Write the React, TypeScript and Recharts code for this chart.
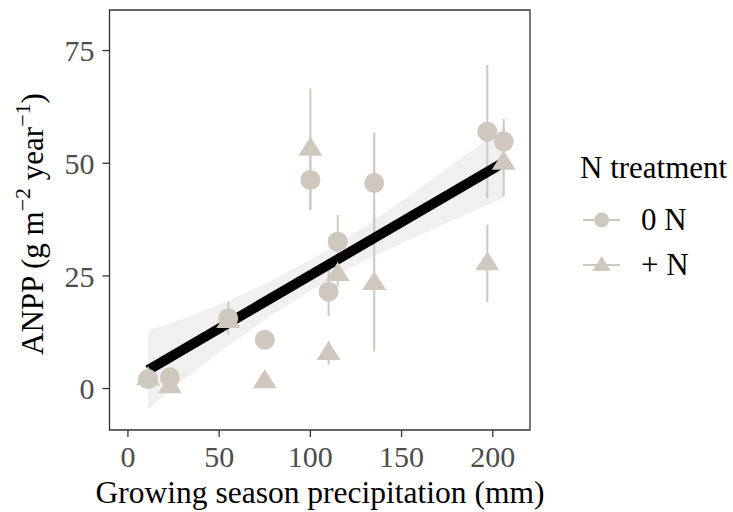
import React from "react";
import {
  ComposedChart,
  XAxis,
  YAxis,
  Scatter,
  ErrorBar,
  Line,
  Area,
  ReferenceArea,
} from "recharts";

const precip = [11, 23, 55, 75, 100, 110, 115, 135, 197, 206];
const anppZeroN = [2.1, 2.5, 15.6, 10.8, 46.3, 21.5, 32.6, 45.6, 57.0, 54.8];
const errZeroN = [1.0, 1.5, 3.7, 2.0, 6.7, 5.4, 5.9, 11.2, 14.8, 5.0];
const anppPlusN = [2.3, 0.5, 15.0, 1.6, 53.2, 7.9, 25.4, 23.4, 27.8, 50.1];
const errPlusN = [0.8, 0.8, 2.0, 0.8, 13.4, 2.6, 2.8, 15.2, 8.6, 7.5];

const fitX = [11, 206];
const fitY = [4.1, 50.2];
const bandX = [11, 30, 55, 80, 105, 130, 155, 180, 206];
const bandLow = [-4.6, 1.8, 9.5, 16.6, 22.9, 28.4, 33.2, 37.7, 42.3];
const bandHigh = [12.8, 15.4, 19.5, 24.2, 29.7, 36.0, 43.0, 50.3, 57.9];

const xTicks = [0, 50, 100, 150, 200];
const yTicks = [0, 25, 50, 75];

const X_DOMAIN = [-10.1, 220.4];
const Y_DOMAIN = [-9.2, 84];

const POINT = "#cfc8bf";
const FONT = "'Liberation Serif', 'Times New Roman', serif";

const zeroN = precip.map((x, i) => ({ x, y: anppZeroN[i], err: errZeroN[i] }));
const plusN = precip.map((x, i) => ({ x, y: anppPlusN[i], err: errPlusN[i] }));
const fit = fitX.map((x, i) => ({ x, y: fitY[i] }));
const band = bandX.map((x, i) => ({ x, band: [bandLow[i], bandHigh[i]] }));

function CircleDot({ cx, cy }: any) {
  return <circle cx={cx} cy={cy} r={10} fill={POINT} />;
}

function TriangleDot({ cx, cy }: any) {
  // centroid sits on the data point
  const w = 12;
  return (
    <path
      d={`M${cx},${cy - 12} L${cx + w},${cy + 7} L${cx - w},${cy + 7} Z`}
      fill={POINT}
    />
  );
}

function YTitle() {
  return (
    <text
      x={43}
      y={224}
      transform="rotate(-90, 43, 224)"
      textAnchor="middle"
      fontFamily={FONT}
      fontSize={31}
      fill="#000"
    >
      ANPP (g m
      <tspan fontSize={22} dy={-13}>−2</tspan>
      <tspan dy={13}> year</tspan>
      <tspan fontSize={22} dy={-13}>−1</tspan>
      <tspan dy={13}>)</tspan>
    </text>
  );
}

function XTitle() {
  return (
    <text
      x={320}
      y={503}
      textAnchor="middle"
      fontFamily={FONT}
      fontSize={31.5}
      fill="#000"
    >
      Growing season precipitation (mm)
    </text>
  );
}

function LegendBox() {
  return (
    <svg width={173} height={150} style={{ display: "block" }}>
      <text x={20} y={38} fontFamily={FONT} fontSize={31} fill="#000">
        N treatment
      </text>
      <line x1={23} x2={60} y1={80} y2={80} stroke={POINT} strokeWidth={2} />
      <circle cx={41.7} cy={80} r={7.5} fill={POINT} />
      <text x={81} y={90} fontFamily={FONT} fontSize={31} fill="#000">
        0 N
      </text>
      <line x1={23} x2={60} y1={125} y2={125} stroke={POINT} strokeWidth={2} />
      <path d="M41.7,116 L51,131 L32.4,131 Z" fill={POINT} />
      <text x={81} y={135} fontFamily={FONT} fontSize={31} fill="#000">
        + N
      </text>
    </svg>
  );
}

export default function App() {
  const tick = { fill: "#4d4d4d", fontSize: 30, fontFamily: FONT };
  return (
    <div style={{ position: "absolute", left: 0, top: 0, width: 733, height: 512, background: "#fff" }}>
      <ComposedChart
        width={733}
        height={512}
        margin={{ top: 10, right: 203, bottom: 0, left: 9.5 }}
      >
        <XAxis
          type="number"
          dataKey="x"
          domain={X_DOMAIN}
          ticks={xTicks}
          allowDataOverflow
          axisLine={false}
          tickLine={{ stroke: "#333", strokeWidth: 1.3 }}
          tickSize={7}
          tickMargin={9}
          tick={tick}
          height={82}
          label={<XTitle />}
        />
        <YAxis
          type="number"
          dataKey="y"
          domain={Y_DOMAIN}
          ticks={yTicks}
          allowDataOverflow
          axisLine={false}
          tickLine={{ stroke: "#333", strokeWidth: 1.3 }}
          tickSize={7}
          tickMargin={8}
          tick={tick}
          width={100}
          label={<YTitle />}
        />
        <Scatter data={plusN} shape={<TriangleDot />} isAnimationActive={false}>
          <ErrorBar dataKey="err" direction="y" width={0} stroke={POINT} strokeWidth={2} />
        </Scatter>
        <Scatter data={zeroN} shape={<CircleDot />} isAnimationActive={false}>
          <ErrorBar dataKey="err" direction="y" width={0} stroke={POINT} strokeWidth={2} />
        </Scatter>
        <Area
          data={band}
          dataKey="band"
          type="linear"
          stroke="none"
          fill="#e6e6e6"
          fillOpacity={0.6}
          isAnimationActive={false}
          activeDot={false}
          dot={false}
        />
        <Line
          data={fit}
          dataKey="y"
          type="linear"
          stroke="#000"
          strokeWidth={10}
          dot={false}
          activeDot={false}
          isAnimationActive={false}
        />
        <ReferenceArea
          x1={X_DOMAIN[0]}
          x2={X_DOMAIN[1]}
          y1={Y_DOMAIN[0]}
          y2={Y_DOMAIN[1]}
          fill="none"
          stroke="#333"
          strokeWidth={1.3}
          ifOverflow="visible"
        />
      </ComposedChart>
      <div style={{ position: "absolute", left: 560, top: 140 }}>
        <LegendBox />
      </div>
    </div>
  );
}
